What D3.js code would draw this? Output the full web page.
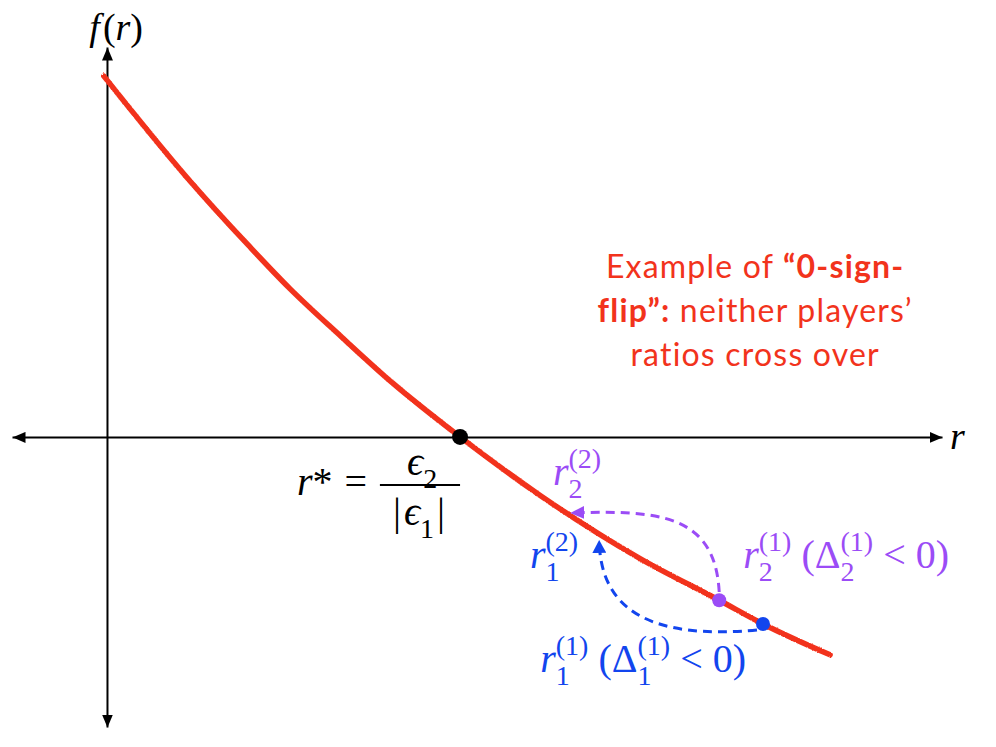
<!DOCTYPE html>
<html><head><meta charset="utf-8">
<script src="https://cdn.jsdelivr.net/npm/d3@7"></script>
<style>body{margin:0;background:#fff}svg{display:block}
.math{font-family:"Liberation Serif","DejaVu Serif","Tinos","Noto Serif","Times New Roman",Times,serif}
.note{font-family:Lato,"Open Sans",sans-serif}
</style>
</head><body>
<script>
// ---- data (r, f(r)) ----
const curveR = [-0.009, 0.227, 0.405, 0.518, 0.666, 0.802, 1.0, 1.227, 1.510, 1.734, 1.858, 2.048];
const curveF = [1.005, 0.722, 0.529, 0.413, 0.277, 0.156, 0.0, -0.163, -0.339, -0.455, -0.521, -0.607];
const rootPoint = {r: 1.0, f: 0.0};
const player2Point = {r: 1.734, f: -0.455};
const player1Point = {r: 1.858, f: -0.521};
// dashed update arrows (start, control1, control2, tip)
const arrow2 = [[1.734, -0.432], [1.722, -0.217], [1.567, -0.203], [1.312, -0.212]];
const arrow1 = [[1.841, -0.538], [1.538, -0.565], [1.397, -0.482], [1.394, -0.287]];
const xDomain = [-0.269, 2.365];
const yDomain = [-0.808, 1.086];
const noteLines = [
  [{t: "Example of ", b: false}, {t: "\u201C0-sign-", b: true}],
  [{t: "flip\u201D:", b: true}, {t: " neither players\u2019", b: false}],
  [{t: "ratios cross over", b: false}]
];

const W = 996, H = 747;
const RED = "#f2331c", BLUE = "#1245ee", PURPLE = "#9b4cf6";

const svg = d3.select("body").append("svg").attr("width", W).attr("height", H);
const x = d3.scaleLinear().domain(xDomain).range([12, 942]);
const y = d3.scaleLinear().domain(yDomain).range([727, 47]);

const defs = svg.append("defs");
function marker(id, color, w, h) {
  defs.append("marker").attr("id", id).attr("viewBox", `0 0 ${w} ${h}`)
    .attr("markerUnits", "userSpaceOnUse").attr("markerWidth", w).attr("markerHeight", h)
    .attr("refX", w).attr("refY", h / 2).attr("orient", "auto-start-reverse")
    .append("path").attr("d", `M0,0L${w},${h/2}L0,${h}Z`).attr("fill", color);
}
marker("axArrow", "#000", 13, 11);
marker("pArrow", PURPLE, 14, 13);
marker("bArrow", BLUE, 13, 14);

const rough = defs.append("filter").attr("id", "rough").attr("x", "-5%").attr("y", "-5%").attr("width", "110%").attr("height", "110%");
rough.append("feTurbulence").attr("type", "fractalNoise").attr("baseFrequency", 1.2).attr("numOctaves", 2).attr("result", "n");
rough.append("feDisplacementMap").attr("in", "SourceGraphic").attr("in2", "n").attr("scale", 3);

// axes
const gx = svg.append("g").attr("transform", `translate(0,${y(0)})`)
  .call(d3.axisBottom(x).tickValues([]).tickSizeOuter(0));
gx.select(".domain").attr("stroke", "#000").attr("stroke-width", 2)
  .attr("marker-start", "url(#axArrow)").attr("marker-end", "url(#axArrow)");
const gy = svg.append("g").attr("transform", `translate(${x(0)},0)`)
  .call(d3.axisLeft(y).tickValues([]).tickSizeOuter(0));
gy.select(".domain").attr("stroke", "#000").attr("stroke-width", 2)
  .attr("marker-start", "url(#axArrow)").attr("marker-end", "url(#axArrow)");

// curve
const pts = curveR.map((r, i) => [r, curveF[i]]);
svg.append("path").datum(pts)
  .attr("d", d3.line().x(d => x(d[0])).y(d => y(d[1])).curve(d3.curveMonotoneX))
  .attr("fill", "none").attr("stroke", RED).attr("stroke-width", 5.5).attr("stroke-linecap", "round")
  .attr("filter", "url(#rough)");

// dashed arrows
function bez(p) {
  const q = p.map(d => [x(d[0]), y(d[1])]);
  return `M${q[0]}C${q[1]} ${q[2]} ${q[3]}`;
}
svg.append("path").attr("d", bez(arrow2)).attr("fill", "none").attr("stroke", PURPLE)
  .attr("stroke-width", 3).attr("stroke-dasharray", "9,6").attr("marker-end", "url(#pArrow)");
svg.append("path").attr("d", bez(arrow1)).attr("fill", "none").attr("stroke", BLUE)
  .attr("stroke-width", 3).attr("stroke-dasharray", "9,6").attr("marker-end", "url(#bArrow)");

// points
svg.append("circle").attr("cx", x(rootPoint.r)).attr("cy", y(rootPoint.f)).attr("r", 8).attr("fill", "#000");
svg.append("circle").attr("cx", x(player2Point.r)).attr("cy", y(player2Point.f)).attr("r", 7).attr("fill", PURPLE);
svg.append("circle").attr("cx", x(player1Point.r)).attr("cy", y(player1Point.f)).attr("r", 7).attr("fill", BLUE);

// math label helper
function mathLabel(px, py, items, color, size) {
  const g = svg.append("g").attr("fill", color).attr("class", "math");
  const small = size * 0.7;
  let cx = px;
  items.forEach(it => {
    if (it.space) { cx += it.space; return; }
    if (it.t) {
      const t = g.append("text").attr("x", cx).attr("y", py + (it.dy || 0))
        .attr("font-size", (it.size || size))
        .attr("font-style", it.it ? "italic" : "normal").text(it.t);
      cx += t.node().getComputedTextLength() + (it.kern || 0);
    }
    let w = 0;
    if (it.sup) {
      const s = g.append("text").attr("x", cx).attr("y", py - size * 0.42)
        .attr("font-size", small).text(it.sup);
      w = Math.max(w, s.node().getComputedTextLength());
    }
    if (it.sub) {
      const s = g.append("text").attr("x", cx).attr("y", py + size * 0.33)
        .attr("font-size", small).text(it.sub);
      w = Math.max(w, s.node().getComputedTextLength());
    }
    cx += w;
  });
  return cx;
}

// axis labels
mathLabel(x(-0.05), y(1.106), [{t: "f", it: true, kern: 3}, {t: "("}, {t: "r", it: true}, {t: ")"}], "#000", 38);
mathLabel(x(2.388), y(-0.033), [{t: "r", it: true}], "#000", 38);

// r* = eps2 / |eps1|
mathLabel(x(0.538), y(-0.162), [{t: "r", it: true}, {t: "*"}, {space: 12}, {t: "="}], "#000", 40);
const fracL = x(0.773), fracR = x(1.0), fracY = y(-0.134);
svg.append("line").attr("x1", fracL).attr("x2", fracR).attr("y1", fracY).attr("y2", fracY)
  .attr("stroke", "#000").attr("stroke-width", 2);
mathLabel(x(0.85), y(-0.105), [{t: "\u03F5", it: true, sub: "2"}], "#000", 40);
mathLabel(x(0.81), y(-0.245), [{t: "|", kern: 3}, {t: "\u03F5", it: true, sub: "1"}, {space: 3}, {t: "|"}], "#000", 40);

// player labels
mathLabel(x(1.263), y(-0.134), [{t: "r", it: true, sub: "2", sup: "(2)"}], PURPLE, 40);
mathLabel(x(1.198), y(-0.365), [{t: "r", it: true, sub: "1", sup: "(2)"}], BLUE, 40);
mathLabel(x(1.802), y(-0.365), [{t: "r", it: true, sub: "2", sup: "(1)"}, {space: 10}, {t: "("},
  {t: "\u0394", sub: "2", sup: "(1)"}, {space: 10}, {t: "<"}, {space: 10}, {t: "0"}, {t: ")"}], PURPLE, 40);
mathLabel(x(1.227), y(-0.655), [{t: "r", it: true, sub: "1", sup: "(1)"}, {space: 10}, {t: "("},
  {t: "\u0394", sub: "1", sup: "(1)"}, {space: 10}, {t: "<"}, {space: 10}, {t: "0"}, {t: ")"}], BLUE, 40);

// red note
const noteBase = [0.443, 0.320, 0.198];
noteLines.forEach((line, i) => {
  const t = svg.append("text").attr("class", "note").attr("x", x(1.836)).attr("y", y(noteBase[i]))
    .attr("text-anchor", "middle").attr("font-size", 32).attr("letter-spacing", 1.2).attr("fill", RED);
  line.forEach(seg => t.append("tspan").attr("font-weight", seg.b ? 700 : 400).text(seg.t));
});
</script>
</body></html>
